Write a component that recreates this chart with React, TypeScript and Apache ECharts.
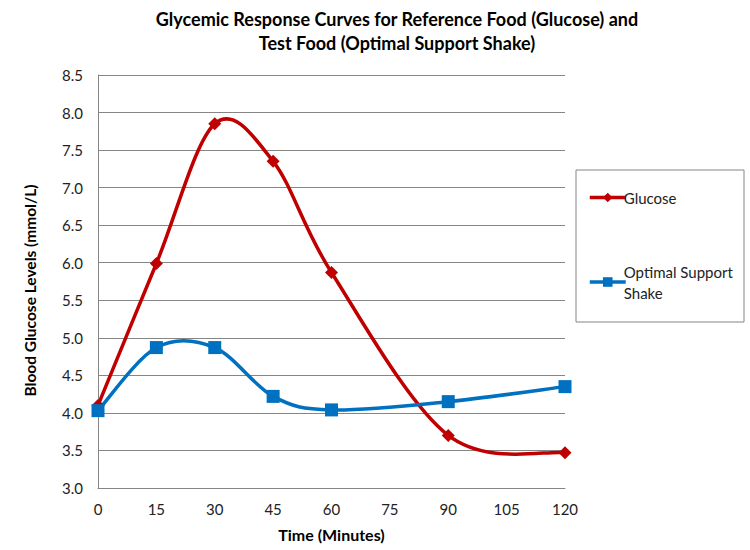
import * as echarts from "echarts";
import { useEffect, useRef } from "react";

const times = [0, 15, 30, 45, 60, 90, 120];
const glucose = [4.1, 5.99, 7.85, 7.35, 5.87, 3.7, 3.47];
const shake = [4.03, 4.87, 4.87, 4.22, 4.04, 4.15, 4.35];

const FONT = "Lato, 'Open Sans', sans-serif";
const RED = "#C00000";
const BLUE = "#0070C0";

// Excel-style smoothed line: one bezier per segment, control points from neighbours (Catmull-Rom)
const curveSeries = (name: string, values: number[], color: string) => ({
    type: "custom",
    name,
    silent: true,
    z: 2,
    data: times.map((t, i) => [t, values[i]]),
    renderItem: (params: any, api: any) => {
        const i = params.dataIndex;
        const n = times.length;
        if (i >= n - 1) return null;
        const pt = (k: number) => {
            const kk = Math.max(0, Math.min(n - 1, k));
            return api.coord([times[kk], values[kk]]);
        };
        const p0 = pt(i - 1);
        const p1 = pt(i);
        const p2 = pt(i + 1);
        const p3 = pt(i + 2);
        const f = 1 / 6;
        return {
            type: "bezierCurve",
            shape: {
                x1: p1[0],
                y1: p1[1],
                x2: p2[0],
                y2: p2[1],
                cpx1: p1[0] + (p2[0] - p0[0]) * f,
                cpy1: p1[1] + (p2[1] - p0[1]) * f,
                cpx2: p2[0] - (p3[0] - p1[0]) * f,
                cpy2: p2[1] - (p3[1] - p1[1]) * f,
            },
            style: { stroke: color, lineWidth: 3.5, fill: "none", lineCap: "round" },
        };
    },
});

const App: React.FC = () => {
    const chartRef = useRef<HTMLDivElement>(null);

    useEffect(() => {
        document.body.style.margin = "0";
        const chart = echarts.init(chartRef.current!, null, { renderer: "svg" });

        const option = {
            animation: false,
            backgroundColor: "#ffffff",
            textStyle: { fontFamily: FONT },
            title: {
                text: "Glycemic Response Curves for Reference Food (Glucose) and\nTest Food (Optimal Support Shake)",
                left: 392,
                top: 2,
                textAlign: "center",
                textStyle: {
                    fontFamily: FONT,
                    fontSize: 18,
                    fontWeight: "bold",
                    color: "#000",
                    lineHeight: 24,
                    align: "center",
                },
            },
            grid: { left: 98, right: 185, top: 75, bottom: 62 },
            xAxis: {
                type: "value",
                min: 0,
                max: 120,
                interval: 15,
                name: "Time (Minutes)",
                nameLocation: "middle",
                nameGap: 38,
                nameTextStyle: { fontFamily: FONT, fontSize: 16, fontWeight: "bold", color: "#000" },
                axisLine: { lineStyle: { color: "#868686", width: 1 } },
                axisTick: { show: false },
                axisLabel: { fontFamily: FONT, fontSize: 15, color: "#222", margin: 13 },
                splitLine: { show: false },
            },
            yAxis: {
                type: "value",
                min: 3,
                max: 8.5,
                interval: 0.5,
                name: "Blood Glucose Levels (mmol/L)",
                nameLocation: "middle",
                nameGap: 60,
                nameTextStyle: {
                    fontFamily: FONT,
                    fontSize: 15.5,
                    fontWeight: "bold",
                    color: "#000",
                    padding: [0, 18, 0, 0],
                },
                axisLine: { show: true, lineStyle: { color: "#868686", width: 1 } },
                axisTick: { show: false },
                axisLabel: {
                    fontFamily: FONT,
                    fontSize: 15,
                    color: "#222",
                    margin: 15,
                    formatter: (v: number) => v.toFixed(1),
                },
                splitLine: { lineStyle: { color: "#868686", width: 1 } },
            },
            legend: {
                orient: "vertical",
                left: 583,
                top: 182,
                itemWidth: 36,
                itemHeight: 12,
                itemGap: 53,
                lineStyle: { opacity: 1, width: 3.5 },
                textStyle: { fontFamily: FONT, fontSize: 15, color: "#222", lineHeight: 21, padding: [0, 0, 0, -7] },
                data: [{ name: "Glucose" }, { name: "Optimal Support\nShake" }],
            },
            graphic: [
                {
                    type: "rect",
                    shape: { x: 576, y: 170, width: 168, height: 152 },
                    style: { fill: "none", stroke: "#868686", lineWidth: 1 },
                    silent: true,
                },
            ],
            series: [
                curveSeries("Glucose curve", glucose, RED),
                curveSeries("Shake curve", shake, BLUE),
                {
                    name: "Glucose",
                    type: "line",
                    data: times.map((t, i) => [t, glucose[i]]),
                    symbol: "diamond",
                    symbolSize: 13,
                    color: RED,
                    lineStyle: { width: 3.5, color: RED, opacity: 0 },
                    itemStyle: { color: RED },
                    z: 3,
                },
                {
                    name: "Optimal Support\nShake",
                    type: "line",
                    data: times.map((t, i) => [t, shake[i]]),
                    symbol: "rect",
                    symbolSize: 13,
                    color: BLUE,
                    lineStyle: { width: 3.5, color: BLUE, opacity: 0 },
                    itemStyle: { color: BLUE },
                    z: 4,
                },
            ],
        };

        chart.setOption(option);

        return () => {
            chart.dispose();
        };
    }, []);

    return <div ref={chartRef} style={{ width: "750px", height: "550px" }} />;
};

export default App;
